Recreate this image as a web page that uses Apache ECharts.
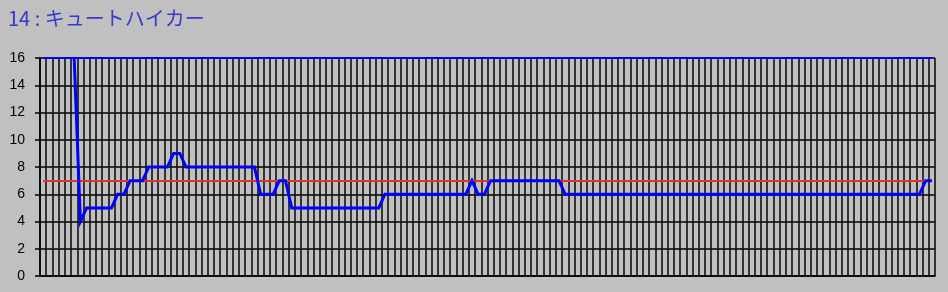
<!DOCTYPE html>
<html>
<head>
<meta charset="utf-8">
<script src="https://cdn.jsdelivr.net/npm/echarts@6/dist/echarts.min.js"></script>
<style>
html,body{margin:0;padding:0;background:#c0c0c0;}
#c{width:948px;height:292px;}
</style>
</head>
<body>
<div id="c"></div>
<script>
const titleText = '14 : キュートハイカー';
const categories = Array.from({length: 144}, (_, i) => String(i + 1));
const rankValues = [
  null, null, null, null, null,
  16, 4,
  5, 5, 5, 5, 5,
  6, 6,
  7, 7, 7,
  8, 8, 8, 8,
  9, 9,
  8, 8, 8, 8, 8, 8, 8, 8, 8, 8, 8, 8,
  6, 6, 6,
  7, 7,
  5, 5, 5, 5, 5, 5, 5, 5, 5, 5, 5, 5, 5, 5, 5,
  6, 6, 6, 6, 6, 6, 6, 6, 6, 6, 6, 6, 6, 6,
  7,
  6, 6,
  7, 7, 7, 7, 7, 7, 7, 7, 7, 7, 7, 7,
  6, 6, 6, 6, 6, 6, 6, 6, 6, 6, 6, 6, 6, 6, 6, 6, 6, 6, 6, 6,
  6, 6, 6, 6, 6, 6, 6, 6, 6, 6, 6, 6, 6, 6, 6, 6, 6, 6, 6, 6,
  6, 6, 6, 6, 6, 6, 6, 6, 6, 6, 6, 6, 6, 6, 6, 6, 6, 6,
  7, 7
];
const referenceLevel = 7;
const topLevel = 16;
const yTicks = { min: 0, max: 16, interval: 2 };

const chart = echarts.init(document.getElementById('c'), null, {renderer: 'canvas'});
const firstCat = categories[0];
const lastCat = categories[categories.length - 1];
chart.setOption({
  backgroundColor: '#c0c0c0',
  animation: false,
  title: {
    text: titleText,
    left: 3,
    top: 3,
    textStyle: {
      color: '#3838cc',
      fontSize: 20,
      fontWeight: 'normal',
      fontFamily: '"Noto Sans CJK JP", sans-serif'
    }
  },
  grid: { left: 40, right: 13, top: 58, bottom: 16 },
  xAxis: {
    type: 'category',
    data: categories,
    boundaryGap: true,
    axisLine: { show: true, lineStyle: { color: '#000', width: 1.5 } },
    axisTick: { show: false },
    axisLabel: { show: false },
    splitLine: { show: true, interval: 0, lineStyle: { color: '#111', width: 1.6 } }
  },
  yAxis: {
    type: 'value',
    min: yTicks.min,
    max: yTicks.max,
    interval: yTicks.interval,
    axisLine: { show: true, lineStyle: { color: '#000', width: 1.5 } },
    axisTick: { show: true, length: 5, lineStyle: { color: '#000', width: 1.5 } },
    axisLabel: {
      color: '#000',
      fontSize: 14,
      fontFamily: '"Liberation Sans", Arial, sans-serif',
      margin: 15
    },
    splitLine: { show: true, lineStyle: { color: '#000', width: 1.5 } }
  },
  series: [
    {
      type: 'line',
      data: [],
      silent: true,
      markLine: {
        silent: true,
        symbol: 'none',
        z: 1,
        label: { show: false },
        lineStyle: { color: '#e03030', width: 2, type: 'solid' },
        data: [[{ coord: [firstCat, referenceLevel] }, { coord: [lastCat, referenceLevel] }]]
      }
    },
    {
      type: 'line',
      data: [],
      silent: true,
      markLine: {
        silent: true,
        symbol: 'none',
        label: { show: false },
        lineStyle: { color: '#0000ff', width: 2, type: 'solid' },
        data: [[{ coord: [firstCat, topLevel] }, { coord: [lastCat, topLevel] }]]
      }
    },
    {
      type: 'line',
      data: rankValues,
      showSymbol: false,
      symbol: 'none',
      connectNulls: false,
      z: 3,
      lineStyle: { color: '#0000ff', width: 3, join: 'miter' }
    }
  ]
});
</script>
</body>
</html>
